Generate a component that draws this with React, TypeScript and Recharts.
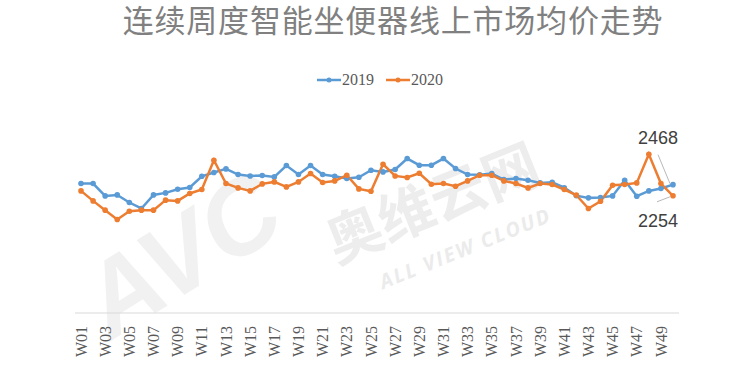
import { LineChart, Line, XAxis, YAxis, LabelList } from "recharts";

const weeks = [
  "W01", "W02", "W03", "W04", "W05", "W06", "W07", "W08", "W09", "W10",
  "W11", "W12", "W13", "W14", "W15", "W16", "W17", "W18", "W19", "W20",
  "W21", "W22", "W23", "W24", "W25", "W26", "W27", "W28", "W29", "W30",
  "W31", "W32", "W33", "W34", "W35", "W36", "W37", "W38", "W39", "W40",
  "W41", "W42", "W43", "W44", "W45", "W46", "W47", "W48", "W49", "W50",
];

const avg2019 = [
  2490, 2490, 2252, 2271, 2125, 2010, 2271, 2310, 2381, 2413,
  2630, 2701, 2771, 2663, 2636, 2644, 2617, 2836, 2663, 2836,
  2663, 2630, 2586, 2611, 2746, 2713, 2759, 2970, 2842, 2842,
  2970, 2778, 2663, 2657, 2682, 2567, 2586, 2554, 2502, 2515,
  2410, 2256, 2214, 2221, 2252, 2554, 2246, 2348, 2394, 2468,
];

const avg2020 = [
  2348, 2156, 1978, 1799, 1958, 1978, 1978, 2170, 2156, 2298,
  2375, 2938, 2490, 2406, 2348, 2483, 2521, 2425, 2521, 2682,
  2509, 2540, 2650, 2387, 2342, 2861, 2636, 2605, 2688, 2477,
  2490, 2438, 2540, 2650, 2650, 2540, 2490, 2406, 2490, 2471,
  2375, 2266, 2010, 2150, 2458, 2471, 2502, 3053, 2490, 2254,
];

const series = [
  { key: "y2019", name: "2019", color: "#5b9bd5" },
  { key: "y2020", name: "2020", color: "#ed7d31" },
];

const data = weeks.map((w, i) => ({ week: w, y2019: avg2019[i], y2020: avg2020[i] }));
const last = weeks.length - 1;

const serif = '"Liberation Serif", "DejaVu Serif", serif';

function WeekTick({ x, y, payload }: any) {
  return (
    <text
      x={x}
      y={y}
      transform={`rotate(-90, ${x}, ${y})`}
      textAnchor="end"
      dy="0.35em"
      fontFamily={serif}
      style={{ fontFamily: serif, fontSize: 16, fill: "#595959" }}
    >
      {payload.value}
    </text>
  );
}

// end-of-line callouts: 2019 above, 2020 below
const endLabel = (above: boolean) => (props: any) => {
  const { x, y, value, index } = props;
  if (index !== last) return null;
  return (
    <g>
      {above ? (
        <line x1={x - 15} y1={y - 30} x2={x - 3} y2={y - 1} stroke="#a6a6a6" strokeWidth={0.8} />
      ) : (
        <line x1={x - 16} y1={y + 6} x2={x - 3} y2={y + 1} stroke="#a6a6a6" strokeWidth={0.8} />
      )}
      <text
        x={x - 15}
        y={above ? y - 41 : y + 31}
        textAnchor="middle"
        style={{ fontFamily: '"Liberation Sans", Arial, sans-serif', fontSize: 18, fill: "#404040" }}
      >
        {value}
      </text>
    </g>
  );
};

function Watermark() {
  return (
    <svg width={729} height={370} style={{ position: "absolute", left: 0, top: 0 }}>
      <text
        x={200}
        y={285}
        transform="rotate(-32, 200, 285)"
        textAnchor="middle"
        style={{
          fontFamily: '"Liberation Sans", Arial, sans-serif',
          fontWeight: "bold",
          fontStyle: "italic",
          fontSize: 104,
          fill: "#f1f1f1",
        }}
      >
        AVC
      </text>
      <text
        x={440}
        y={222}
        transform="rotate(-22, 440, 222)"
        textAnchor="middle"
        style={{
          fontFamily: '"Noto Sans CJK SC", sans-serif',
          fontWeight: "bold",
          fontSize: 56,
          fill: "#ededed",
        }}
      >
        奥维云网
      </text>
      <text
        x={468}
        y={255}
        transform="rotate(-22, 468, 255)"
        textAnchor="middle"
        style={{
          fontFamily: '"Open Sans", sans-serif',
          fontWeight: "bold",
          fontStyle: "italic",
          fontSize: 20,
          letterSpacing: 2,
          fill: "#ebebeb",
        }}
      >
        ALL VIEW CLOUD
      </text>
    </svg>
  );
}

export default function App() {
  return (
    <div style={{ position: "absolute", left: 0, top: 0, width: 729, height: 370, background: "#fff" }}>
      <Watermark />
      <div
        style={{
          position: "absolute",
          left: 110,
          top: 3,
          width: 566,
          height: 40,
          textAlign: "center",
          whiteSpace: "nowrap",
          fontFamily: '"Liberation Serif", "Noto Sans CJK SC", sans-serif',
          fontSize: 31,
          letterSpacing: 0.8,
          color: "#808080",
          lineHeight: "38px",
        }}
      >
        连续周度智能坐便器线上市场均价走势
      </div>
      <div
        style={{
          position: "absolute",
          left: 317,
          top: 70,
          display: "flex",
          alignItems: "center",
          fontFamily: serif,
          fontSize: 16,
          color: "#595959",
          lineHeight: "20px",
        }}
      >
        {series.map((s) => (
          <div key={s.key} style={{ display: "flex", alignItems: "center", marginRight: 12 }}>
            <svg width={24} height={10} style={{ marginRight: 1 }}>
              <line x1={0} y1={5} x2={24} y2={5} stroke={s.color} strokeWidth={2.5} />
              <circle cx={12} cy={5} r={2.5} fill={s.color} />
            </svg>
            <span>{s.name}</span>
          </div>
        ))}
      </div>
      <div style={{ position: "absolute", left: 0, top: 0 }}>
        <LineChart
          width={729}
          height={370}
          data={data}
          margin={{ top: 105, right: 50, bottom: 12, left: 75 }}
        >
          <XAxis
            dataKey="week"
            interval={1}
            height={45}
            padding={{ left: 6, right: 6 }}
            axisLine={{ stroke: "#d9d9d9" }}
            tickLine={false}
            tickSize={0}
            tickMargin={13}
            tick={<WeekTick />}
          />
          <YAxis hide domain={[0, 4000]} />
          {series.map((s, i) => (
            <Line
              key={s.key}
              type="linear"
              dataKey={s.key}
              name={s.name}
              stroke={s.color}
              strokeWidth={2.5}
              dot={{ r: 2.8, fill: s.color, stroke: s.color, strokeWidth: 0 }}
              isAnimationActive={false}
            >
              <LabelList dataKey={s.key} content={endLabel(i === 0)} />
            </Line>
          ))}
        </LineChart>
      </div>
    </div>
  );
}
